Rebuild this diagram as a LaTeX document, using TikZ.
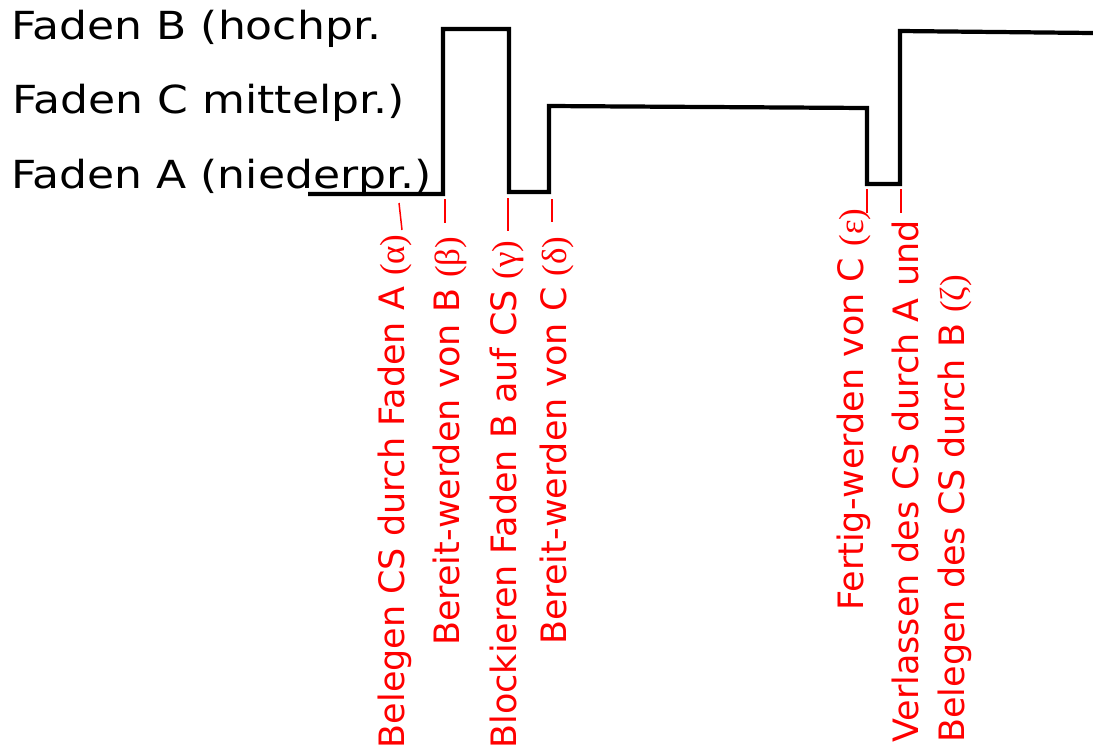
\documentclass[tikz,border=0pt]{standalone}
\usepackage{fontspec}
\setmainfont{DejaVu Sans}
\newfontfamily\gkfont{Liberation Serif}
\newfontfamily\fadenfont[FakeStretch=1.14]{DejaVu Sans}
\newcommand{\gk}[1]{{\gkfont(#1)}}
\begin{document}
\begin{tikzpicture}[x=0.02cm,y=-0.02cm,
    faden/.style={anchor=base west,inner sep=0pt,font=\fadenfont\fontsize{22pt}{26pt}\selectfont},
    ereignis/.style={rotate=90,inner sep=0pt,text=red,align=left,font=\fontsize{19.9pt}{26.2pt}\selectfont},
    zeitlinie/.style={line width=2.4pt,line join=miter},
    marke/.style={red,line width=0.85pt}]

    \useasboundingbox (0,0) rectangle (1093,748);

    % Prioritaeten
    \node[faden] (fB) at (11,39) {Faden B (hochpr.};
    \node[faden] (fC) at (12,113) {Faden C mittelpr.)};
    \node[faden] (fA) at (11,188) {Faden A (niederpr.)};

    % wer gerade laeuft
    \draw[zeitlinie] (308,194) -- (443,194) -- (443,29) -- (509,29) -- (509,192)
        -- (549,192) -- (549,106) -- (867,108) -- (867,184) -- (900,184)
        -- (900,31) -- (1093,33);

    % Ereignisse
    \node[ereignis,anchor=base east] (alpha) at (404,234) {Belegen CS durch Faden A \gk{α}};
    \node[ereignis,anchor=base west] (beta) at (459,646) {Bereit-werden von B \gk{β}};
    \node[ereignis,anchor=base east] (gamma) at (516,240) {Blockieren Faden B auf CS \gk{γ}};
    \node[ereignis,anchor=base west] (delta) at (566,645) {Bereit-werden von C \gk{δ}};
    \node[ereignis,anchor=base west] (eps) at (863,611) {Fertig-werden von C \gk{ε}};
    \node[ereignis,anchor=north west] (zeta) at (892,743) {Verlassen des CS durch A und\\Belegen des CS durch B \gk{ζ}};

    % Markierungen
    \coordinate (ta) at (399,203);
    \coordinate (tb) at (445,199);
    \coordinate (tg) at (508,198);
    \coordinate (td) at (552,199);
    \coordinate (te) at (867,189);
    \coordinate (tz) at (901,189);
    \draw[marke] (ta) -- ++(3,27);
    \draw[marke] (tb) -- ++(0,24);
    \draw[marke] (tg) -- ++(0,33);
    \draw[marke] (td) -- ++(0,23);
    \draw[marke] (te) -- ++(0,24);
    \draw[marke] (tz) -- ++(0,24);

\end{tikzpicture}
\end{document}
